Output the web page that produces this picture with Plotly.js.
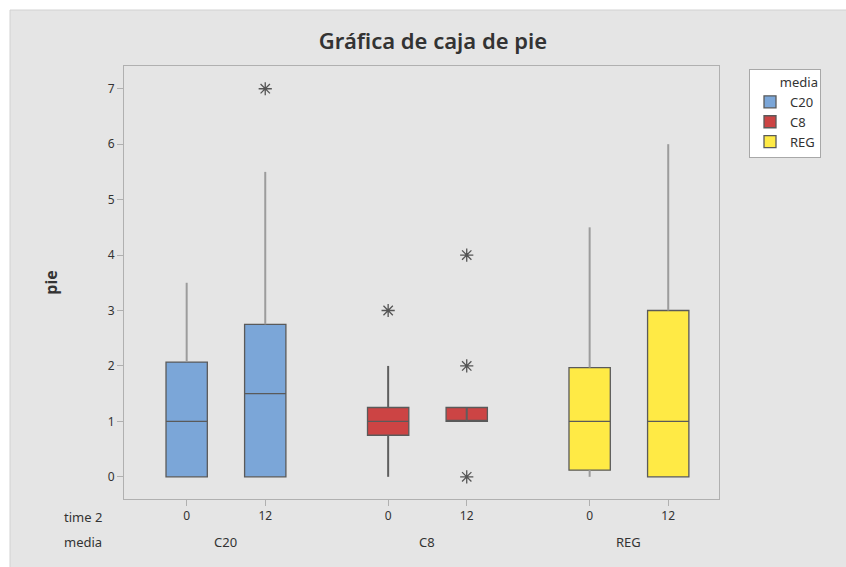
<!DOCTYPE html>
<html>
<head>
<meta charset="utf-8">
<script src="https://cdn.plot.ly/plotly-3.0.1.min.js"></script>
<style>html,body{margin:0;padding:0;background:#fff}#chart{width:846px;height:567px}</style>
</head>
<body>
<div id="chart"></div>
<script>
// ---- data ----
const media = ["C20", "C8", "REG"];
const times = ["0", "12"];
// per box, in order: C20-0, C20-12, C8-0, C8-12, REG-0, REG-12
const boxMedia = ["C20", "C20", "C8", "C8", "REG", "REG"];
const boxTime  = ["0", "12", "0", "12", "0", "12"];
const q1           = [0,    0,    0.75, 1,    0.12, 0];
const median       = [1,    1.5,  1,    1,    1,    1];
const q3           = [2.07, 2.75, 1.25, 1.25, 1.97, 3];
const lowWhisker   = [0,    0,    0,    1,    0,    0];
const highWhisker  = [3.5,  5.5,  2,    1.25, 4.5,  6];
const outliers     = [[],   [7],  [3],  [4, 2, 0], [], []];
const mediaColors  = {"C20": "#7BA6D8", "C8": "#CC4444", "REG": "#FFEA45"};
const whiskerColors = {"C20": "#9c9c9c", "C8": "#5e5e5e", "REG": "#9c9c9c"};

// ---- positions on a numeric axis: group index +/- offset ----
const offset = 0.195;
function xpos(i) {
  const g = media.indexOf(boxMedia[i]);
  const t = times.indexOf(boxTime[i]);
  return g + (t === 0 ? -offset : offset);
}

const traces = [];
const seen = {};
for (let i = 0; i < q1.length; i++) {
  const m = boxMedia[i];
  const x = xpos(i);
  traces.push({
    type: "box",
    name: m,
    legendgroup: m,
    showlegend: !seen[m],
    x: [x],
    q1: [q1[i]], median: [median[i]], q3: [q3[i]],
    lowerfence: [q1[i]], upperfence: [q3[i]],
    width: 0.205,
    boxpoints: false,
    fillcolor: mediaColors[m],
    line: {color: "#5a5a5a", width: 1.3},
    hoverinfo: "skip"
  });
  seen[m] = true;
}
// whiskers
for (let i = 0; i < q1.length; i++) {
  const m = boxMedia[i];
  const x = xpos(i);
  const segs = [];
  if (highWhisker[i] > q3[i]) segs.push([q3[i], highWhisker[i]]);
  if (lowWhisker[i] < q1[i]) segs.push([lowWhisker[i], q1[i]]);
  if (segs.length === 0) segs.push([q1[i], q3[i]]); // zero-length whiskers drawn through box
  segs.forEach(s => {
    traces.push({
      type: "scatter", mode: "lines",
      x: [x, x], y: s,
      line: {color: whiskerColors[m], width: 2},
      showlegend: false, hoverinfo: "skip"
    });
  });
}
// outliers
for (let i = 0; i < q1.length; i++) {
  if (!outliers[i].length) continue;
  const x = xpos(i);
  traces.push({
    type: "scatter", mode: "markers",
    x: outliers[i].map(() => x), y: outliers[i],
    marker: {symbol: "asterisk-open", size: 11, color: "#555", line: {color: "#555", width: 1.3}},
    showlegend: false, hoverinfo: "skip"
  });
}

const tickvals = [], ticktext = [];
for (let i = 0; i < q1.length; i++) { tickvals.push(xpos(i)); ticktext.push(boxTime[i]); }

const font = "Noto Sans, Open Sans, sans-serif";
const L = 124, R = 719, T = 66, B = 499, W = 846, H = 567;
const pw = R - L, ph = B - T;
const px = v => (v - L) / pw;
const py = v => (B - v) / ph;

const annotations = media.map((m, g) => ({
  x: g, xref: "x", y: py(542), yref: "paper",
  text: m, showarrow: false, xanchor: "center", yanchor: "middle",
  font: {family: font, size: 13, color: "#333"}
}));
annotations.push({x: px(62), xref: "paper", y: py(517), yref: "paper", text: "time 2",
  showarrow: false, xanchor: "left", yanchor: "middle", font: {family: font, size: 13, color: "#333"}});
annotations.push({x: px(62), xref: "paper", y: py(542), yref: "paper", text: "media",
  showarrow: false, xanchor: "left", yanchor: "middle", font: {family: font, size: 13, color: "#333"}});

const layout = {
  width: W, height: H,
  margin: {l: L, r: W - R, t: T, b: H - B, pad: 0},
  paper_bgcolor: "#ffffff",
  plot_bgcolor: "#ffffff",
  font: {family: font, size: 12, color: "#333"},
  title: {text: "Gráfica de caja de pie", x: px(433), xref: "paper", xanchor: "center",
          y: 1 - 41 / H, yanchor: "middle",
          font: {family: font, size: 22, color: "#333", weight: 600}},
  xaxis: {
    range: [-0.506, 2.447], tickvals: tickvals, ticktext: ticktext,
    showgrid: false, zeroline: false, showline: true, mirror: true,
    linecolor: "#b0b0b0", linewidth: 1,
    ticks: "outside", ticklen: 6, tickcolor: "#b0b0b0",
    tickfont: {family: font, size: 12, color: "#333"}, fixedrange: true
  },
  yaxis: {
    range: [-0.40, 7.41], tickvals: [0,1,2,3,4,5,6,7],
    showgrid: false, zeroline: false, showline: true, mirror: true,
    linecolor: "#b0b0b0", linewidth: 1,
    ticks: "outside", ticklen: 6, tickcolor: "#b0b0b0",
    tickfont: {family: font, size: 12, color: "#333"},
    title: {text: "pie", standoff: 46, font: {family: font, size: 16, color: "#333", weight: 700}},
    fixedrange: true
  },
  legend: {
    x: px(749), xanchor: "left", y: py(69), yanchor: "top",
    bgcolor: "#ffffff", bordercolor: "#a8a8a8", borderwidth: 1,
    title: {text: "media", side: "top right", font: {family: font, size: 13, color: "#333"}},
    font: {family: font, size: 13, color: "#333"},
    tracegroupgap: 0, itemwidth: 30
  },
  shapes: [{
    type: "rect", xref: "paper", yref: "paper", layer: "below",
    x0: px(10), x1: px(W + 5), y0: py(H + 5), y1: py(10),
    fillcolor: "#e5e5e5", line: {color: "#d2d2d2", width: 1}
  }],
  annotations: annotations,
  showlegend: true
};

Plotly.newPlot("chart", traces, layout, {displayModeBar: false, staticPlot: true});
</script>
</body>
</html>
